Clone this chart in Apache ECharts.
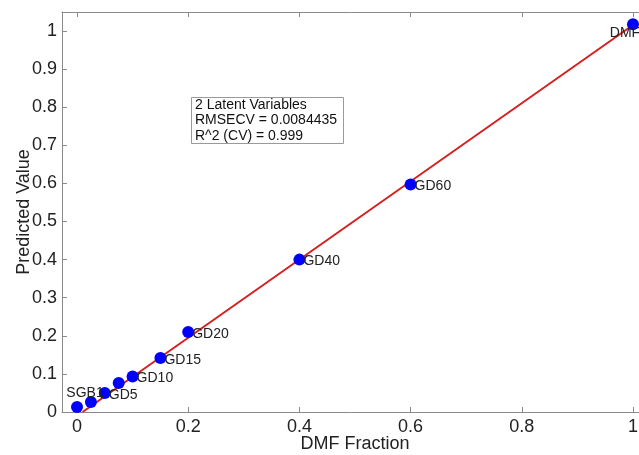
<!DOCTYPE html>
<html><head><meta charset="utf-8">
<script src="https://cdn.jsdelivr.net/npm/echarts@6/dist/echarts.min.js"></script>
<style>html,body{margin:0;padding:0;background:#fff}#c{width:639px;height:455px}</style>
</head><body><div id="c"></div>
<script>
const names = ['SGB1','','GD5','','GD10','GD15','GD20','GD40','GD60','DMF'];
const xVals = [0, 0.025, 0.05, 0.075, 0.1, 0.15, 0.2, 0.4, 0.6, 1.0];
const yVals = [0.013, 0.026, 0.05, 0.076, 0.093, 0.142, 0.21, 0.4, 0.597, 1.018];
const fitLine = [[0.01, 0], [1.0, 1.016]];
const xTicks = [0, 0.2, 0.4, 0.6, 0.8, 1];
const yTicks = [0, 0.1, 0.2, 0.3, 0.4, 0.5, 0.6, 0.7, 0.8, 0.9, 1];
const infoLines = ['2 Latent Variables', 'RMSECV = 0.0084435', 'R^2 (CV) = 0.999'];

const chart = echarts.init(document.getElementById('c'));
const axisCol = '#8a8a8a';
const FF = 'Liberation Sans';
const fmt = v => String(+v.toFixed(2));
const labelFor = i => {
  if (i === 0) return {position: 'top', distance: 1, offset: [8, 0]};
  if (i === 9) return {position: 'bottom', distance: -4, offset: [-8, 0]};
  return {position: 'right', distance: -2, offset: [0, 2]};
};
const pts = xVals.map((x, i) => ({value: [x, yVals[i]], name: names[i], label: labelFor(i)}));

chart.setOption({
  animation: false,
  grid: {left: 62, right: -9, top: 12, bottom: 43, outerBoundsMode: 'none', containLabel: false},
  xAxis: [{
    type: 'value', min: -0.027, max: 1.027,
    name: 'DMF Fraction', nameLocation: 'middle', nameGap: 23, nameMoveOverlap: false,
    nameTextStyle: {fontFamily: FF, fontSize: 18, color: '#222'},
    axisLine: {show: true, onZero: false, lineStyle: {color: axisCol}},
    axisTick: {show: true, inside: true, length: 5, customValues: xTicks, lineStyle: {color: axisCol}},
    axisLabel: {customValues: xTicks, formatter: fmt, fontFamily: FF, fontSize: 18, color: '#222', margin: 6},
    splitLine: {show: false}
  }, {
    type: 'value', min: -0.027, max: 1.027, position: 'top',
    axisLine: {show: true, onZero: false, lineStyle: {color: axisCol}},
    axisTick: {show: true, inside: true, length: 5, customValues: xTicks, lineStyle: {color: axisCol}},
    axisLabel: {show: false}, splitLine: {show: false}
  }],
  yAxis: [{
    type: 'value', min: 0, max: 1.05,
    name: 'Predicted Value', nameLocation: 'middle', nameGap: 29, nameRotate: 90, nameMoveOverlap: false,
    nameTextStyle: {fontFamily: FF, fontSize: 18, color: '#222'},
    axisLine: {show: true, onZero: false, lineStyle: {color: axisCol}},
    axisTick: {show: true, inside: true, length: 5, customValues: yTicks, lineStyle: {color: axisCol}},
    axisLabel: {customValues: yTicks, formatter: fmt, fontFamily: FF, fontSize: 18, color: '#222', margin: 5},
    splitLine: {show: false}
  }, {
    type: 'value', min: 0, max: 1.05, position: 'right',
    axisLine: {show: true, onZero: false, lineStyle: {color: axisCol}},
    axisTick: {show: false}, axisLabel: {show: false}, splitLine: {show: false}
  }],
  graphic: [{
    type: 'rect', left: 191, top: 97,
    shape: {width: 152, height: 46},
    style: {fill: '#fff', stroke: '#9a9a9a', lineWidth: 1}, z: 10
  }, {
    type: 'text', left: 195, top: 97, z: 11,
    style: {text: infoLines.join('\n'), fontFamily: FF, fontSize: 14, lineHeight: 15.5, fill: '#111'}
  }],
  series: [{
    type: 'line', data: fitLine, symbol: 'none',
    lineStyle: {color: '#d42020', width: 2}, z: 2, silent: true
  }, {
    type: 'scatter', data: pts, symbol: 'circle', symbolSize: 12,
    itemStyle: {color: '#0000ff', opacity: 1}, z: 3,
    label: {show: true, formatter: p => p.name, fontFamily: FF, fontSize: 14, color: '#222'}
  }]
});
</script></body></html>
